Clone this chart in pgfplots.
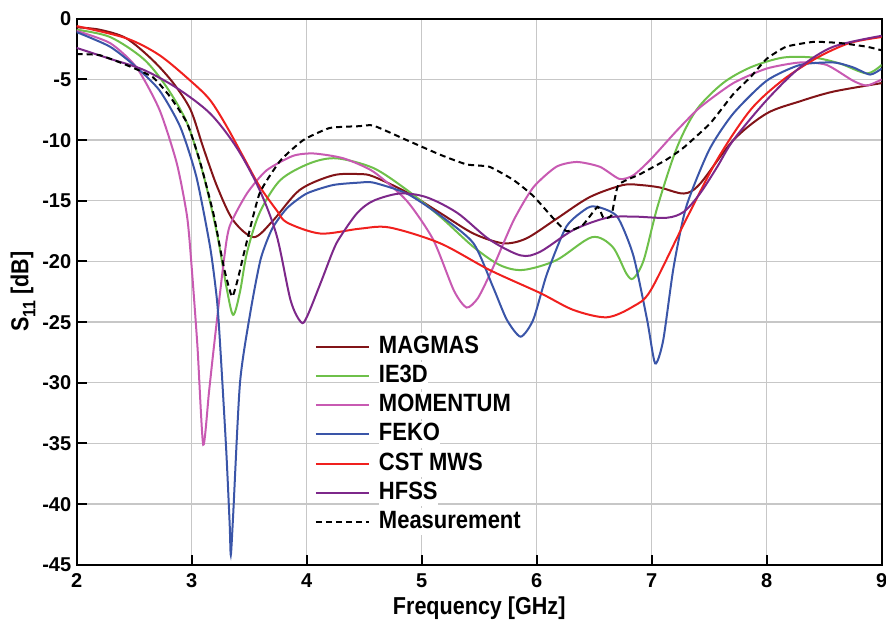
\documentclass[border=0pt]{standalone}
\usepackage{fontspec}
\setmainfont{Liberation Sans}
\newfontfamily\condfont{Liberation Sans}[FakeStretch=0.88]
\usepackage{pgfplots}
\pgfplotsset{compat=1.18}
\definecolor{cMag}{RGB}{130,20,24}
\definecolor{cIe}{RGB}{110,192,74}
\definecolor{cMom}{RGB}{200,90,178}
\definecolor{cFek}{RGB}{58,85,168}
\definecolor{cCst}{RGB}{240,32,30}
\definecolor{cHfs}{RGB}{125,40,138}
\begin{document}
\begin{tikzpicture}
\begin{axis}[
  name=ax,
  width=805pt, height=546pt, scale only axis,
  xmin=2, xmax=9, ymin=-45, ymax=0,
  xtick={2,3,...,9}, ytick={-45,-40,...,0},
  tick pos=left, tick align=inside,
  major tick length=10pt,
  every tick/.style={black, line width=2pt},
  axis line style={black, line width=2pt},
  grid=major,
  major grid style={draw=black!22, line width=1.3pt},
  /pgf/number format/assume math mode=true,
  tick label style={font=\fontsize{20}{24}\selectfont\bfseries},
  xticklabel style={yshift=-5pt},
  yticklabel style={xshift=-2pt},
  label style={font=\condfont\fontsize{24.5}{28}\selectfont\bfseries},
  xlabel={Frequency [GHz]},
  ylabel={S\raisebox{-7pt}{\fontsize{18}{18}\selectfont 11} [dB]},
  xlabel style={yshift=-2pt},
  ylabel style={yshift=0pt},
  legend cell align=left,
  legend image code/.code={\draw[#1] (0pt,0pt) -- (53pt,0pt);},
  legend style={draw=none, fill=none, inner sep=0pt,
    at={(axis cs:4.07,-25.9)}, anchor=north west,
    font=\condfont\fontsize{25}{28}\selectfont\bfseries,
    row sep=2.2pt,
    nodes={inner sep=0pt, text height=20pt, text depth=7pt},
    /tikz/every odd column/.append style={column sep=9pt},
    /tikz/every even column/.append style={nodes={fill=white}}},
  every axis plot/.append style={line width=2pt},
]
\addplot[cMag, smooth, tension=0.5] coordinates {
(2.0,-0.7)(2.2,-0.9)(2.43,-1.6)(2.66,-3.4)(2.84,-5.3)(2.99,-7.5)(3.1,-10.6)(3.22,-13.8)(3.36,-16.6)(3.54,-18.0)(3.71,-16.6)(3.94,-14.1)(4.23,-12.9)(4.46,-12.8)(4.58,-13.0)(4.87,-14.3)(5.16,-16.0)(5.45,-17.7)(5.71,-18.5)(5.91,-18.1)(6.17,-16.5)(6.46,-14.7)(6.75,-13.7)(6.9,-13.7)(7.07,-13.9)(7.28,-14.4)(7.42,-13.6)(7.71,-10.0)(8.0,-7.8)(8.29,-6.8)(8.58,-6.0)(9.0,-5.3)};
\addlegendentry{MAGMAS}
\addplot[cIe, smooth, tension=0.5] coordinates {
(2.0,-0.9)(2.29,-1.5)(2.58,-3.3)(2.78,-5.6)(2.96,-8.6)(3.1,-12.8)(3.22,-17.7)(3.30,-22.0)(3.36,-24.4)(3.42,-22.5)(3.48,-19.3)(3.59,-16.0)(3.77,-13.3)(4.03,-11.9)(4.26,-11.5)(4.58,-12.3)(4.87,-14.1)(5.16,-16.3)(5.45,-18.8)(5.68,-20.3)(5.88,-20.7)(6.17,-19.9)(6.48,-18.0)(6.66,-18.8)(6.78,-21.0)(6.84,-21.4)(6.93,-19.9)(7.05,-15.5)(7.22,-10.6)(7.39,-7.5)(7.62,-5.3)(7.86,-4.0)(8.14,-3.2)(8.41,-3.2)(8.64,-3.7)(8.87,-4.5)(9.0,-3.8)};
\addlegendentry{IE3D}
\addplot[cMom, smooth, tension=0.4] coordinates {
(2.0,-1.0)(2.29,-2.0)(2.52,-4.0)(2.72,-7.5)(2.87,-11.9)(2.96,-16.3)(3.0,-20.5)(3.05,-27.0)(3.10,-35.1)(3.15,-30.8)(3.19,-27.3)(3.28,-19.9)(3.33,-17.1)(3.48,-14.4)(3.65,-12.5)(3.88,-11.3)(4.06,-11.1)(4.32,-11.5)(4.58,-12.6)(4.87,-15.0)(5.1,-18.2)(5.28,-22.4)(5.39,-23.8)(5.49,-23.0)(5.62,-20.5)(5.80,-16.6)(5.97,-13.9)(6.17,-12.2)(6.35,-11.8)(6.55,-12.2)(6.72,-13.2)(6.84,-12.9)(6.99,-11.6)(7.22,-9.2)(7.42,-7.3)(7.71,-5.3)(8.0,-4.1)(8.29,-3.6)(8.52,-3.8)(8.75,-5.1)(8.87,-5.5)(9.0,-5.0)};
\addlegendentry{MOMENTUM}
\addplot[cFek, smooth, tension=0.4] coordinates {
(2.0,-1.1)(2.29,-2.3)(2.52,-4.0)(2.72,-5.9)(2.90,-8.9)(3.04,-13.0)(3.16,-18.8)(3.22,-23.2)(3.25,-27.3)(3.30,-35.5)(3.33,-41.6)(3.34,-44.2)(3.36,-41.0)(3.42,-30.0)(3.51,-24.2)(3.60,-19.8)(3.70,-17.3)(3.83,-15.6)(4.0,-14.4)(4.23,-13.7)(4.46,-13.5)(4.58,-13.5)(4.87,-14.4)(5.16,-16.2)(5.45,-18.5)(5.62,-22.1)(5.74,-24.8)(5.86,-26.2)(5.97,-24.8)(6.09,-21.0)(6.26,-17.1)(6.44,-15.6)(6.53,-15.5)(6.70,-16.3)(6.84,-19.5)(6.96,-24.8)(7.03,-28.4)(7.10,-26.5)(7.19,-20.5)(7.30,-15.5)(7.50,-10.8)(7.71,-7.8)(8.0,-5.1)(8.29,-3.8)(8.58,-3.6)(8.75,-4.0)(8.90,-4.6)(9.0,-4.1)};
\addlegendentry{FEKO}
\addplot[cCst, smooth, tension=0.5] coordinates {
(2.0,-0.6)(2.43,-1.6)(2.72,-3.0)(3.0,-5.2)(3.16,-6.7)(3.30,-8.8)(3.45,-11.4)(3.59,-13.8)(3.74,-15.8)(3.83,-16.8)(4.12,-17.7)(4.46,-17.3)(4.72,-17.2)(5.16,-18.5)(5.59,-20.7)(6.03,-22.6)(6.32,-24.0)(6.61,-24.6)(6.84,-23.7)(6.99,-22.4)(7.28,-16.9)(7.57,-11.6)(7.86,-7.5)(8.14,-5.05)(8.44,-3.2)(8.72,-2.0)(9.0,-1.5)};
\addlegendentry{CST MWS}
\addplot[cHfs, smooth, tension=0.5] coordinates {
(2.0,-2.4)(2.29,-3.3)(2.58,-4.2)(2.87,-5.7)(3.16,-7.8)(3.39,-10.6)(3.59,-14.1)(3.74,-17.9)(3.86,-23.2)(3.95,-25.0)(4.0,-24.6)(4.12,-21.8)(4.23,-19.1)(4.29,-18.0)(4.44,-16.0)(4.58,-15.0)(4.81,-14.4)(5.04,-14.7)(5.31,-16.0)(5.59,-18.2)(5.86,-19.5)(6.03,-19.2)(6.32,-17.4)(6.61,-16.4)(6.84,-16.3)(7.13,-16.4)(7.28,-15.9)(7.42,-14.4)(7.57,-12.2)(7.71,-10.0)(8.0,-6.7)(8.29,-4.0)(8.58,-2.3)(9.0,-1.4)};
\addlegendentry{HFSS}
\addplot[black, dash pattern=on 6pt off 4pt, smooth, tension=0.3] coordinates {
(2.0,-2.9)(2.2,-3.0)(2.43,-3.8)(2.66,-4.8)(2.81,-6.4)(2.96,-8.6)(3.07,-11.7)(3.19,-16.1)(3.28,-20.5)(3.35,-22.9)(3.40,-21.5)(3.46,-19.1)(3.59,-14.4)(3.77,-11.7)(3.97,-10.0)(4.20,-9.0)(4.46,-8.85)(4.58,-8.8)(4.87,-10.0)(5.16,-11.2)(5.39,-12.0)(5.59,-12.2)(5.80,-13.3)(5.97,-14.6)(6.14,-16.4)(6.26,-17.5)(6.40,-17.0)(6.53,-15.5)(6.58,-16.4)(6.65,-16.2)(6.71,-13.7)(6.90,-12.8)(7.13,-11.6)(7.28,-10.6)(7.51,-8.6)(7.71,-6.2)(7.86,-4.8)(8.0,-3.3)(8.17,-2.3)(8.41,-1.9)(8.64,-2.0)(8.87,-2.3)(9.0,-2.6)};
\addlegendentry{Measurement}
\end{axis}
\pgfresetboundingbox
\path[use as bounding box] (ax.south west) ++(-76.7pt,-58.2pt) rectangle ++(886pt,623pt);
\end{tikzpicture}
\end{document}
